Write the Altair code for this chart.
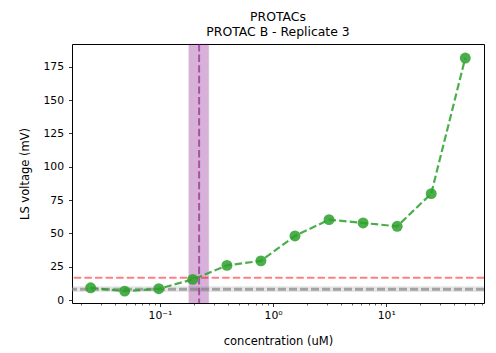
import altair as alt
import pandas as pd

# Data
conc = [0.0244, 0.0488, 0.0977, 0.195, 0.391, 0.781, 1.5625, 3.125, 6.25, 12.5, 25, 50]
voltage = [9.2, 6.7, 8.5, 15.5, 26.0, 29.4, 48.1, 60.3, 57.8, 55.3, 79.8, 181.5]

threshold_red = [16.8]
baseline_mean = [8.2]
baseline_low = [6.0]
baseline_high = [10.4]
mid_conc = [0.222]
mid_low = [0.18]
mid_high = [0.27]

x_major = [0.1, 1, 10]
x_minor = [0.02, 0.03, 0.04, 0.05, 0.06, 0.07, 0.08, 0.09,
           0.2, 0.3, 0.4, 0.5, 0.6, 0.7, 0.8, 0.9,
           2, 3, 4, 5, 6, 7, 8, 9,
           20, 30, 40, 50, 60, 70]
y_ticks = [0, 25, 50, 75, 100, 125, 150, 175]

FONT = "DejaVu Sans"
df = pd.DataFrame({"conc": conc, "voltage": voltage})

major_test = "datum.value == 0.1 || datum.value == 1 || datum.value == 10"

xscale = alt.Scale(type="log", domain=[0.0167, 73.2], nice=False)
yscale = alt.Scale(domain=[-2.2, 192], nice=False, zero=False)

xaxis = alt.Axis(
    title="concentration (uM)",
    values=x_major + x_minor,
    labelExpr="datum.value == 0.1 ? '10⁻¹' : datum.value == 1 ? '10⁰' : datum.value == 10 ? '10¹' : ''",
    tickSize={"condition": {"test": major_test, "value": 3.5}, "value": 2},
    tickWidth={"condition": {"test": major_test, "value": 0.8}, "value": 0.6},
    labelOverlap=False,
    labelFlush=False,
    grid=False,
    domain=False,
    labelPadding=3,
    titlePadding=15,
)
yaxis = alt.Axis(
    title="LS voltage (mV)",
    values=y_ticks,
    tickSize=3.5,
    tickWidth=0.8,
    grid=False,
    domain=False,
    labelOverlap=False,
    labelPadding=5,
    titlePadding=12,
)


def X(field):
    return alt.X(field, scale=xscale, axis=xaxis)


def Y(field):
    return alt.Y(field, scale=yscale, axis=yaxis)


base = alt.Chart(df)

purple_band = alt.Chart(pd.DataFrame({"lo": mid_low, "hi": mid_high})).mark_rect(
    color="purple", opacity=0.3, stroke="purple", strokeOpacity=0.35, strokeWidth=1
).encode(x=X("lo:Q"), x2="hi:Q")

gray_band = alt.Chart(pd.DataFrame({"lo": baseline_low, "hi": baseline_high})).mark_rect(
    color="gray", opacity=0.2
).encode(y=Y("lo:Q"), y2="hi:Q")

gray_line = alt.Chart(pd.DataFrame({"v": baseline_mean})).mark_rule(
    color="gray", opacity=0.65, strokeWidth=3, strokeDash=[8, 3]
).encode(y=Y("v:Q"))

red_line = alt.Chart(pd.DataFrame({"v": threshold_red})).mark_rule(
    color="red", opacity=0.5, strokeWidth=2, strokeDash=[7.4, 3.2]
).encode(y=Y("v:Q"))

purple_line = alt.Chart(pd.DataFrame({"v": mid_conc})).mark_rule(
    color="purple", opacity=0.55, strokeWidth=2, strokeDash=[7.4, 3.2]
).encode(x=X("v:Q"))

green_line = base.mark_line(
    color="#2ca02c", opacity=0.85, strokeWidth=2.2, strokeDash=[7.4, 3.2]
).encode(x=X("conc:Q"), y=Y("voltage:Q"))

green_pts = base.mark_point(
    filled=True, shape="circle", size=120, color="#2ca02c", opacity=0.85
).encode(x=X("conc:Q"), y=Y("voltage:Q"))

chart = alt.layer(
    purple_band, gray_band, gray_line, red_line, purple_line, green_pts, green_line
).properties(
    width=412,
    height=259,
    title=alt.TitleParams(
        text=["PROTACs", "PROTAC B - Replicate 3"],
        font=FONT, fontSize=12.4, fontWeight="normal", color="black",
        anchor="middle", lineHeight=15, offset=5,
    ),
    autosize=alt.AutoSizeParams(type="none"),
    padding={"left": 64, "top": 36, "right": 4, "bottom": 50},
).configure_view(
    stroke="black", strokeWidth=1
).configure_axis(
    labelFont=FONT, titleFont=FONT, labelFontSize=10.8, titleFontSize=11.5,
    titleFontWeight="normal", labelColor="black", titleColor="black",
    tickColor="black",
)

chart.save("out.html", embed_options={"renderer": "svg", "actions": False})
